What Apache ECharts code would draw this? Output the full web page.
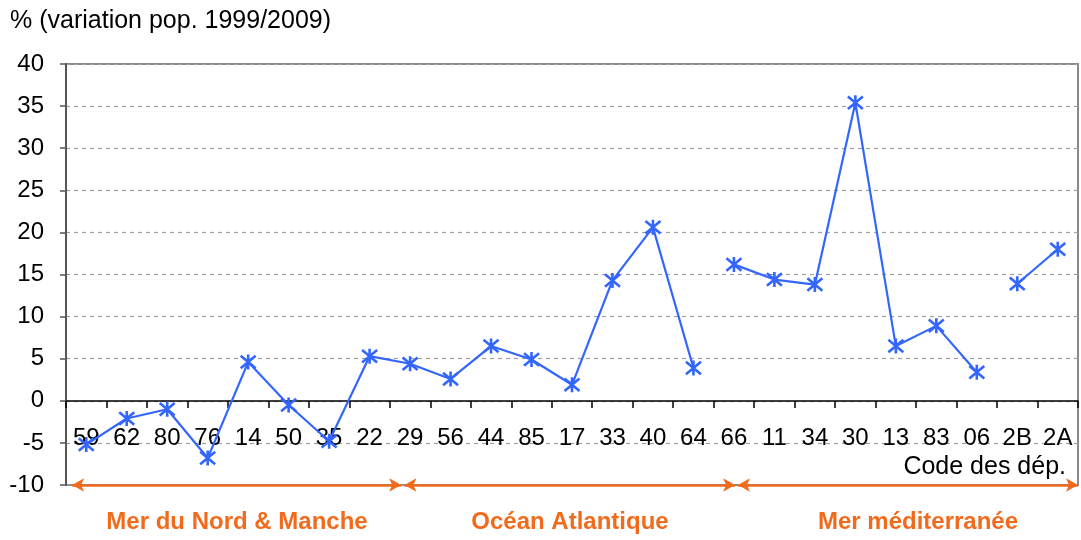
<!DOCTYPE html>
<html><head><meta charset="utf-8">
<script src="https://cdn.jsdelivr.net/npm/echarts@6/dist/echarts.min.js"></script>
<style>html,body{margin:0;padding:0;background:#fff}#c{width:1081px;height:540px}</style>
</head><body><div id="c"></div>
<script>
const categories = ['59','62','80','76','14','50','35','22','29','56','44','85','17','33','40','64','66','11','34','30','13','83','06','2B','2A'];
const values = [-5.2,-2.1,-1.0,-6.8,4.6,-0.5,-4.8,5.3,4.4,2.6,6.5,4.9,1.9,14.3,20.6,3.9,16.2,14.4,13.8,35.4,6.5,8.9,3.4,13.9,18.0];
// line segments (the line is broken between 64|66 and 06|2B)
const segments = [[0,15],[16,22],[23,24]];
const regions = ['Mer du Nord & Manche','Océan Atlantique','Mer méditerranée'];
const regionSpans = [[0.15,8.28],[8.36,16.53],[16.6,25]];
const yTitle = '% (variation pop. 1999/2009)';
const xTitle = 'Code des dép.';

const FONT = 'Liberation Sans, Arial, sans-serif';
const BLUE = '#3366FF';
const ORANGE = '#F26B1D';
const star = 'path://M0,0L10,10M10,0L0,10M5,-1L5,11';

const chart = echarts.init(document.getElementById('c'));
const lineSeries = segments.map(([a,b]) => ({
  type:'line', xAxisIndex:0, yAxisIndex:0,
  data: values.map((v,i)=> (i>=a && i<=b) ? v : null),
  connectNulls:false,
  symbol: star, symbolSize:15, showSymbol:true,
  lineStyle:{color:BLUE,width:2.2},
  itemStyle:{color:'none',borderColor:BLUE,borderWidth:2.6},
  emphasis:{disabled:true}, animation:false, z:5
}));
const arrowSeries = {
  type:'line', xAxisIndex:1, yAxisIndex:0, data:[], animation:false, z:6,
  markLine:{
    silent:true, animation:false,
    symbol:['arrow','arrow'], symbolSize:[10,12],
    lineStyle:{color:ORANGE,width:2.5,type:'solid'},
    label:{show:false},
    data: regionSpans.map(([a,b]) => [{coord:[a,-10]},{coord:[b,-10]}])
  }
};
chart.setOption({
  animation:false,
  textStyle:{fontFamily:FONT},
  grid:{left:66,right:3,top:64,bottom:55,show:true,borderColor:'#8a8a8a',borderWidth:2,backgroundColor:'transparent'},
  xAxis:[{
    type:'category', data:categories, boundaryGap:true, position:'bottom', offset:-84,
    axisLine:{onZero:false,lineStyle:{color:'#000',width:1.5}},
    axisTick:{show:true,inside:false,length:7,lineStyle:{color:'#000',width:1.5}},
    axisLabel:{color:'#000',fontSize:24,fontFamily:FONT,margin:25,interval:0},
    splitLine:{show:false}
  },{
    type:'value', min:0, max:25, show:false
  }],
  yAxis:{
    type:'value', min:-10, max:40, interval:5,
    axisLine:{show:true,onZero:false,lineStyle:{color:'#555',width:2}},
    axisTick:{show:true,inside:false,length:6,lineStyle:{color:'#555',width:1.5}},
    axisLabel:{color:'#000',fontSize:24,fontFamily:FONT,margin:22},
    splitLine:{show:true,lineStyle:{color:'#a0a0a0',type:[4,4],width:1.2}}
  },
  graphic:[
    {type:'text',left:10,top:9,style:{text:yTitle,font:'25px '+FONT,fill:'#000'}},
    {type:'text',right:15,top:455,style:{text:xTitle,font:'25px '+FONT,fill:'#000'}},
    {type:'text',x:237,y:522,style:{text:regions[0],font:'bold 24px '+FONT,fill:ORANGE,textAlign:'center',textVerticalAlign:'middle'}},
    {type:'text',x:570,y:522,style:{text:regions[1],font:'bold 24px '+FONT,fill:ORANGE,textAlign:'center',textVerticalAlign:'middle'}},
    {type:'text',x:918,y:522,style:{text:regions[2],font:'bold 24px '+FONT,fill:ORANGE,textAlign:'center',textVerticalAlign:'middle'}}
  ],
  series:[...lineSeries, arrowSeries]
});
</script></body></html>
